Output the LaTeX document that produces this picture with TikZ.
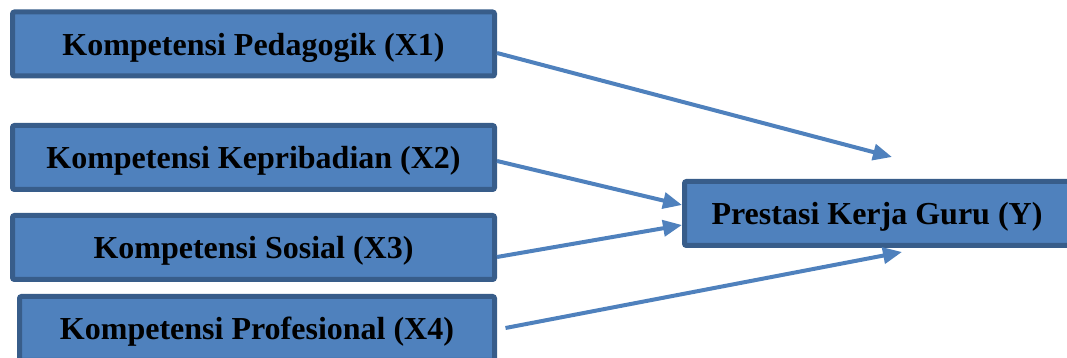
\documentclass[tikz,border=0pt]{standalone}
\usepackage{fontspec}
\setmainfont{Liberation Serif}
\usetikzlibrary{arrows.meta}
\definecolor{boxfill}{HTML}{4F81BD}
\definecolor{boxline}{HTML}{385D8A}
\tikzset{
  var/.style={draw=boxline,fill=boxfill,line width=5pt,rounded corners=2pt,
    minimum width=482pt,minimum height=64pt,inner sep=0pt,text depth=0pt,
    font=\fontsize{32}{36}\selectfont\bfseries},
  link/.style={draw=boxfill,line width=4pt,-{Triangle[length=19pt,width=16pt]}}
}
\begin{document}
\begin{tikzpicture}[x=1pt,y=1pt]
      \useasboundingbox (0,0) rectangle (1067,358);
      \clip (0,0) rectangle (1067,358);
      \node[var] (x1) at (253.5,314) {Kompetensi Pedagogik (X1)};
      \node[var] (x2) at (253.5,200.5) {Kompetensi Kepribadian (X2)};
      \node[var] (x3) at (253.5,110.5) {Kompetensi Sosial (X3)};
      \node[var,minimum width=475pt] (x4) at (257,29.5) {Kompetensi Profesional (X4)};
      \node[var,minimum width=385pt] (y) at (877,144.5) {Prestasi Kerja Guru (Y)};
      \coordinate (t1) at (892,201);
      \coordinate (t4) at (902,106);

      \draw[link] ([yshift=-9pt]x1.east) -- (t1);
      \draw[link] ([yshift=-3.5pt]x2.east) -- ([yshift=8.5pt]y.west);
      \draw[link] ([yshift=-9.5pt]x3.east) -- ([yshift=-11.5pt]y.west);
      \draw[link] ([xshift=8.5pt,yshift=0.5pt]x4.east) -- (t4);
    \end{tikzpicture}
\end{document}
